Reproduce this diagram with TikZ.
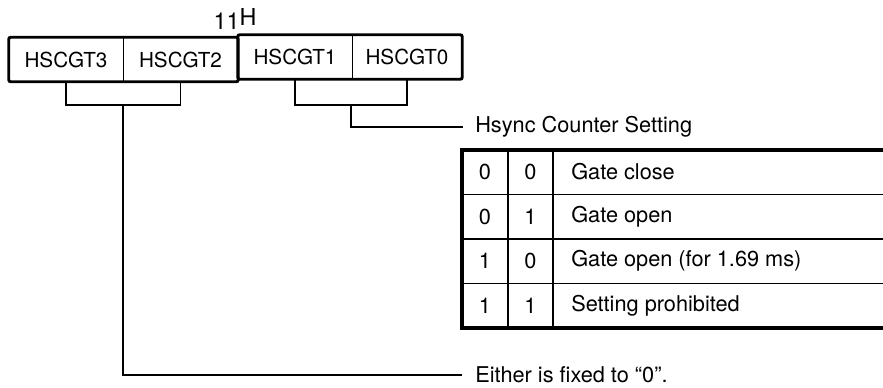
\documentclass[tikz,border=0pt]{standalone}
\usepackage{fontspec}
\setmainfont{TeX Gyre Heros}
\usetikzlibrary{calc}
\tikzset{
  field/.style={draw=none, inner sep=0pt, minimum height=33pt, anchor=center, font=\fontsize{15.5}{18}\selectfont},
  regbox/.style={line width=2.2pt, rounded corners=1.5pt},
  thinline/.style={line width=1.1pt},
  brk/.style={line width=1.3pt},
  thick tbl/.style={line width=2.4pt},
  lbl/.style={inner sep=0pt, anchor=west},
  cell/.style={inner sep=0pt, anchor=center},
  desc/.style={inner sep=0pt, anchor=west},
}
\begin{document}
\begin{tikzpicture}[x=0.75pt,y=-0.75pt,font=\fontsize{16.3}{19}\selectfont]
\useasboundingbox (0,0) rectangle (883,387);

% title
\node[inner sep=0pt, font=\fontsize{17.5}{20}\selectfont] (title) at (235,19) {11\raisebox{2.5pt}{H}};

% register fields
\node[field, minimum width=85.5pt] (f3) at (66,59.5) {HSCGT3};
\node[field, minimum width=86.25pt] (f2) at (180.5,59.5) {HSCGT2};
\node[field, minimum width=85.5pt] (f1) at (295,57) {HSCGT1};
\node[field, minimum width=82.5pt] (f0) at (407,57) {HSCGT0};

% outlines
\draw[regbox] (f3.north west) rectangle (f2.south east);
\draw[regbox] (f1.north west) rectangle (f0.south east);
\draw[thinline] (f3.north east) -- (f3.south east);
\draw[thinline] (f1.north east) -- (f1.south east);

% brackets
\coordinate (bl) at ($(f3.south)!0.5!(f2.south)+(0,23.5)$);
\coordinate (br) at ($(f1.south)!0.5!(f0.south)+(0,25.5)$);
\draw[brk] (f3.south) -- ++(0,23.5) -| (f2.south);
\draw[brk] (f1.south) -- ++(0,25.5) -| (f0.south);

% labels
\node[lbl] (hsync) at (475,127) {Hsync Counter Setting};
\node[lbl] (either) at (475,375) {Either is fixed to ``0''.};
\draw[brk] (br) |- ([xshift=-9pt]hsync.west);
\draw[brk] (bl) |- ([xshift=-10pt]either.west);

% table
\draw[thinline] (462,194.5) -- (883,194.5);
\draw[thinline] (462,239) -- (883,239);
\draw[thinline] (462,283.5) -- (883,283.5);
\draw[thinline] (508,150) -- (508,328);
\draw[line width=1.8pt] (553,150) -- (553,328);
\draw[thick tbl] (883,150) -- (462,150) -- (462,328) -- (883,328);

\node[cell] (a0) at (485,172) {0};
\node[cell] (b0) at (530.5,172) {0};
\node[desc] (d0) at (571,172) {Gate close};
\node[cell] (a1) at (485,216.5) {0};
\node[cell] (b1) at (530.5,216.5) {1};
\node[desc] (d1) at (571,216.5) {Gate open};
\node[cell] (a2) at (485,261) {1};
\node[cell] (b2) at (530.5,261) {0};
\node[desc] (d2) at (571,261) {Gate open (for 1.69 ms)};
\node[cell] (a3) at (485,305.5) {1};
\node[cell] (b3) at (530.5,305.5) {1};
\node[desc] (d3) at (571,305.5) {Setting prohibited};
\end{tikzpicture}
\end{document}
